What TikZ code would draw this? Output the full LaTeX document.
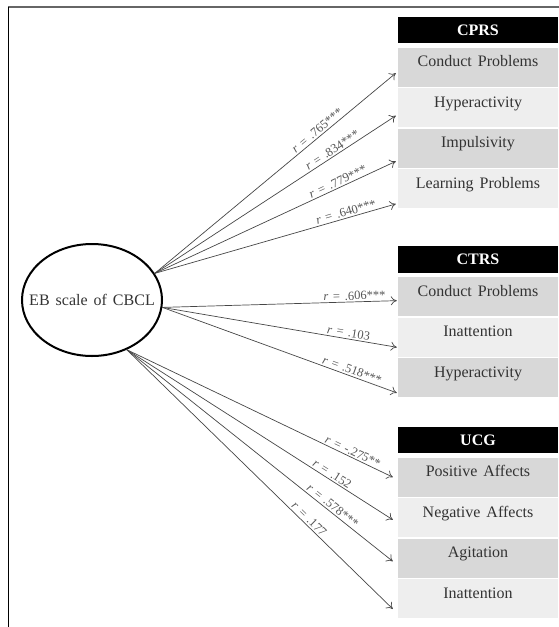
\documentclass[tikz,border=0pt]{standalone}
\usepackage{fontspec}
\setmainfont{Liberation Serif}[WordSpace=1.5]
\usetikzlibrary{positioning,shapes.geometric,arrows.meta}
\definecolor{darkcell}{RGB}{216,216,216}
\definecolor{lightcell}{RGB}{238,238,238}
\definecolor{linkgray}{RGB}{70,70,70}
\definecolor{labelgray}{RGB}{85,85,85}
\tikzset{
headbox/.style={fill=black,text=white,font=\fontsize{16}{16}\selectfont\bfseries,minimum width=160pt,minimum height=26.5pt,inner sep=0pt},
cellbox/.style={fill=#1,text=black!80,font=\fontsize{16}{16}\selectfont,minimum width=160pt,text height=15pt,text depth=16pt,inner xsep=0pt,inner ysep=4pt},
link/.style={draw=linkgray,line width=0.7pt,-{To[length=6pt,width=9pt]}},
rlabel/.style={sloped,font=\fontsize{12.5}{13}\selectfont,text=labelgray,inner sep=1.5pt}
}
\begin{document}
\begin{tikzpicture}[x=1pt,y=-1pt]
\useasboundingbox (0,0) rectangle (559,627);
\draw[line width=1.5pt,draw=black!60] (8,7) -- (559,7);
\draw[line width=0.8pt] (8,7) -- (8,627);
\node[ellipse,draw,line width=2pt,minimum width=140pt,minimum height=112pt,inner sep=0pt,
  label={[font=\fontsize{16}{16}\selectfont,text=black!80]center:EB scale of CBCL}] (eb) at (92,300) {};
\node[headbox] (cprs) at (478,30) {CPRS};
\node[cellbox=darkcell,below=4pt of cprs] (cpCond) {Conduct Problems};
\node[cellbox=lightcell,below=1.2pt of cpCond] (cpHyp) {Hyperactivity};
\node[cellbox=darkcell,below=1.2pt of cpHyp] (cpImp) {Impulsivity};
\node[cellbox=lightcell,below=1.2pt of cpImp] (cpLearn) {Learning Problems};
\node[headbox] (ctrs) at (478,259.5) {CTRS};
\node[cellbox=darkcell,below=4pt of ctrs] (ctCond) {Conduct Problems};
\node[cellbox=lightcell,below=1.2pt of ctCond] (ctInatt) {Inattention};
\node[cellbox=darkcell,below=1.2pt of ctInatt] (ctHyp) {Hyperactivity};
\node[headbox] (ucg) at (478,440) {UCG};
\node[cellbox=darkcell,below=4pt of ucg] (ugPos) {Positive Affects};
\node[cellbox=lightcell,below=1.2pt of ugPos] (ugNeg) {Negative Affects};
\node[cellbox=darkcell,below=1.2pt of ugNeg] (ugAgit) {Agitation};
\node[cellbox=lightcell,below=1.2pt of ugAgit] (ugInatt) {Inattention};
\foreach \tgt/\dy/\p/\val in {cpCond/-6/0.69/.765***,cpHyp/-8/0.75/.834***,cpImp/-13/0.77/.779***,cpLearn/-15/0.8/.640***}
  \draw[link] (eb.23) -- ([xshift=-2pt,yshift=\dy pt]\tgt.west) node[rlabel,pos=\p,above] {\textit{r} = \val};
\foreach \tgt/\dy/\p/\val in {ctCond/-4/0.82/.606***,ctInatt/-10/0.79/.103,ctHyp/-15/0.8/.518***}
  \draw[link] (eb.-6) -- ([xshift=-1pt,yshift=\dy pt]\tgt.west) node[rlabel,pos=\p,above] {\textit{r} = \val};
\foreach \tgt/\dy/\p/\val in {ugPos/0/0.84/-.275**,ugNeg/-2/0.76/.152,ugAgit/-3/0.76/.578***,ugInatt/-10/0.67/.177}
  \draw[link] (eb.-55) -- ([xshift=-5pt,yshift=\dy pt]\tgt.west) node[rlabel,pos=\p,above] {\textit{r} = \val};
\end{tikzpicture}
\end{document}
